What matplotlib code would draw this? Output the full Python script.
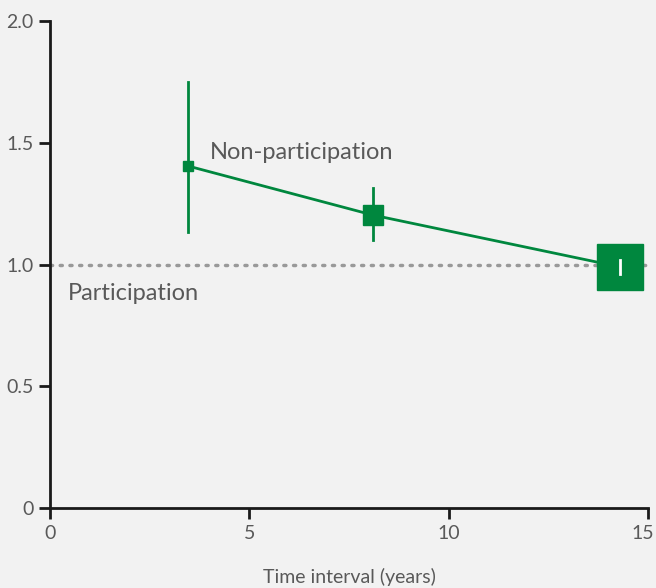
import numpy as np
import matplotlib.pyplot as plt
import matplotlib.transforms as mtransforms

years = [3.45, 8.1, 14.3]
ratio = [1.405, 1.203, 0.99]
ci_low = [1.133, 1.10, 0.96]
ci_high = [1.75, 1.314, 1.02]
marker_sizes = [7, 14.5, 33]

green = '#00873e'
grey = '#595959'
bg = '#f2f2f2'

plt.rcParams['font.family'] = ['Lato', 'DejaVu Sans']

fig = plt.figure(figsize=(6.56, 5.88), dpi=100, facecolor=bg)
ax = fig.add_axes([50/656, 1 - 508/588, 598/656, 487/588])
ax.set_facecolor(bg)

# reference line
ax.plot([0, 15], [1, 1], color='#999999', lw=2.5, linestyle=(0, (0.6, 2.2)),
        dash_capstyle='round', zorder=1)

ax.plot(years, ratio, color=green, lw=2, zorder=2)
for x, y, lo, hi, s in zip(years, ratio, ci_low, ci_high, marker_sizes):
    col = 'white' if s > 20 else green
    ax.plot(x, y, marker='s', ms=s, color=green, mec=green, zorder=3)
    ax.plot([x, x], [lo, hi], color=col, lw=2, zorder=4)

ax.text(4.0, 1.46, 'Non-participation', fontsize=17, color=grey, va='center')
ax.text(0.45, 0.88, 'Participation', fontsize=17, color=grey, va='center')

ax.set_xlim(0, 15)
ax.set_ylim(0, 2)
ax.set_xticks([0, 5, 10, 15])
ax.set_yticks([0, 0.5, 1.0, 1.5, 2.0])
ax.set_yticklabels(['0', '0.5', '1.0', '1.5', '2.0'])
ax.set_xlabel('Time interval (years)', fontsize=14, color=grey, labelpad=19)

for side in ['top', 'right']:
    ax.spines[side].set_visible(False)
for side in ['left', 'bottom']:
    ax.spines[side].set_linewidth(2)
    ax.spines[side].set_color('#1a1a1a')
ax.tick_params(length=8, width=2, color='#1a1a1a', labelcolor=grey,
               labelsize=14, pad=4)

# nudge the "15" label so it stays inside the figure
last = ax.get_xticklabels()[-1]
last.set_transform(last.get_transform() +
                   mtransforms.ScaledTranslation(-4/72, 0, fig.dpi_scale_trans))

fig.savefig('out.png', dpi=100, facecolor=bg)
